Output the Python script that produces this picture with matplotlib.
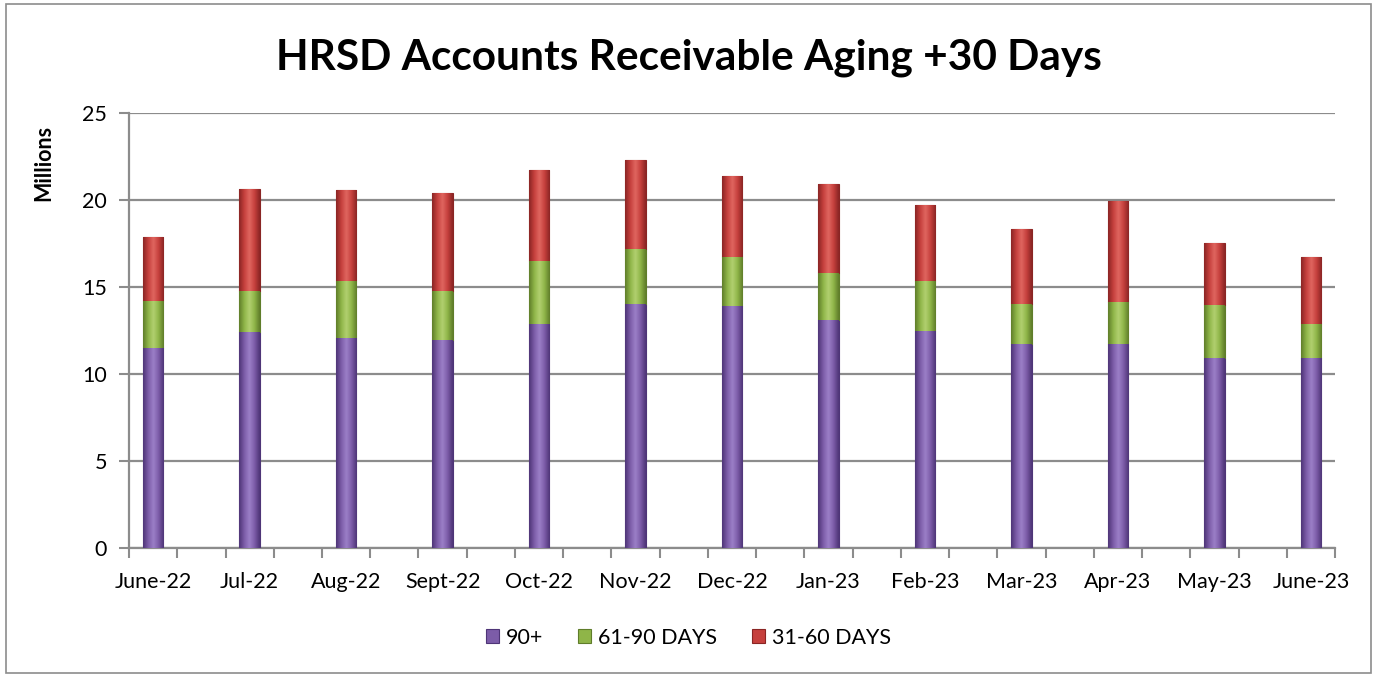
import numpy as np
import matplotlib
matplotlib.use("Agg")
import matplotlib.pyplot as plt
from matplotlib.patches import Rectangle
from matplotlib.colors import LinearSegmentedColormap

plt.rcParams['font.family'] = ['Lato', 'DejaVu Sans']

months = ["June-22", "Jul-22", "Aug-22", "Sept-22", "Oct-22", "Nov-22", "Dec-22",
          "Jan-23", "Feb-23", "Mar-23", "Apr-23", "May-23", "June-23"]
d90 = [11.5, 12.4, 12.05, 11.95, 12.85, 14.0, 13.9, 13.1, 12.5, 11.7, 11.7, 10.9, 10.9]
d61_90 = [2.7, 2.4, 3.3, 2.8, 3.65, 3.2, 2.85, 2.7, 2.85, 2.3, 2.45, 3.05, 1.95]
d31_60 = [3.65, 5.85, 5.2, 5.65, 5.25, 5.1, 4.65, 5.15, 4.35, 4.35, 5.8, 3.6, 3.85]
series_names = ["90+", "61-90 DAYS", "31-60 DAYS"]
colors = ["#7C5CA8", "#8FB548", "#C6403D"]
dark = ["#4E3577", "#5F7D2A", "#8A2524"]
light = ["#9C80C8", "#B2D070", "#E06660"]

fig = plt.figure(figsize=(13.77, 6.77), dpi=100)
ax = fig.add_axes([0.0937, 0.1905, 0.9695 - 0.0937, 0.833 - 0.1905])

x = np.arange(len(months))
w = 0.21
bottom = np.zeros(len(months))
handles = []
for vals, name, c, dk, lt in zip([d90, d61_90, d31_60], series_names, colors, dark, light):
    vals = np.array(vals)
    bars = ax.bar(x, vals, w, bottom=bottom, color=c, edgecolor=dk, linewidth=0.8,
                  label=name, zorder=3)
    cmap = LinearSegmentedColormap.from_list("g", [dk, c, lt, c, dk])
    grad = np.linspace(0, 1, 64).reshape(1, -1)
    for b in bars:
        bx, by = b.get_x(), b.get_y()
        bw, bh = b.get_width(), b.get_height()
        im = ax.imshow(grad, cmap=cmap, extent=[bx, bx + bw, by, by + bh],
                       aspect='auto', zorder=3.5, interpolation='bicubic')
        im.set_clip_path(b)
    handles.append(bars)
    bottom = bottom + vals

ax.set_xlim(-0.25, 12.25)
ax.set_ylim(0, 25)
ax.set_yticks(np.arange(0, 26, 5))
ax.yaxis.grid(True, color="#8C8C8C", linewidth=1.6, zorder=0)
ax.set_axisbelow(True)

ax.set_xticks(x)
ax.set_xticklabels(months, fontsize=15.5)
ax.tick_params(axis='x', which='major', length=0, pad=17)
ax.set_xticks(np.arange(-0.25, 12.26, 0.5), minor=True)
ax.tick_params(axis='x', which='minor', length=7, width=1.5, color="#8C8C8C", direction='out')
ax.tick_params(axis='y', labelsize=15.5, length=7, width=1.5, color="#8C8C8C", pad=9)

for s in ['top', 'right']:
    ax.spines[s].set_visible(False)
for s in ['left', 'bottom']:
    ax.spines[s].set_color("#8C8C8C")
    ax.spines[s].set_linewidth(1.6)

fig.text(0.0315, 0.76, "Millions", rotation=90, fontsize=15.5, fontweight='bold',
         ha='center', va='center')
fig.text(0.5, 0.915, "HRSD Accounts Receivable Aging +30 Days", fontsize=30.5,
         fontweight='bold', ha='center', va='center')

leg = fig.legend(handles, series_names, loc='center', bbox_to_anchor=(0.5, 0.058),
                 ncol=3, frameon=False, fontsize=15.5, handlelength=0.6, handleheight=0.6,
                 columnspacing=1.6, handletextpad=0.35)

fig.add_artist(Rectangle((0.004, 0.006), 0.992, 0.988, transform=fig.transFigure,
                         fill=False, edgecolor="#8C8C8C", linewidth=1.2))

fig.savefig("out.png", dpi=100, facecolor="white")
